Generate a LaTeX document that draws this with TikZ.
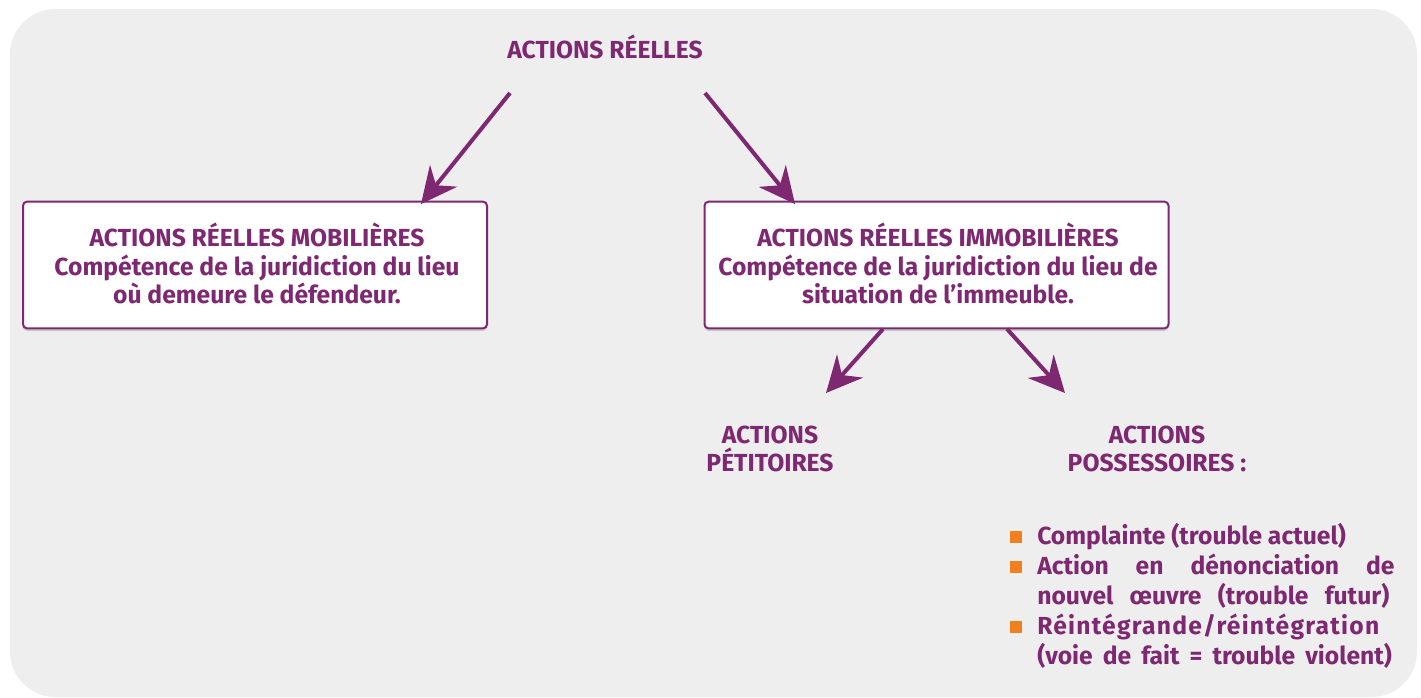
\documentclass[tikz,border=0pt]{standalone}
\usepackage{fontspec}
\setmainfont{Fira Sans}
\usetikzlibrary{arrows.meta,shadows}
\definecolor{pur}{HTML}{7D2870}
\definecolor{bg}{HTML}{EEEEEE}
\definecolor{org}{HTML}{F07F1E}
\begin{document}
\begin{tikzpicture}[x=0.75pt,y=-0.75pt,
  txt/.style={inner sep=0pt,font=\fontsize{18.5}{21}\selectfont\bfseries,text=pur},
  ctr/.style={txt,anchor=base},
  lft/.style={txt,anchor=base west},
  box/.style={draw=pur,line width=1.5pt,fill=white,rounded corners=3pt,
    minimum width=348pt,minimum height=95pt,inner sep=0pt,
    drop shadow={shadow xshift=0pt,shadow yshift=-2pt,opacity=0.35,fill=black!45}},
  arr/.style={draw=pur,line width=3pt,-{Stealth[length=27pt,width=26pt,inset=9pt]}},
  bul/.style={fill=org,inner sep=0pt,minimum size=9.5pt}]
\useasboundingbox (0,0) rectangle (1421,697);
\fill[bg,rounded corners=34pt] (10,9) rectangle (1417,697);
% title
\node[ctr] (title) at (605,58) {ACTIONS RÉELLES};
% boxes
\node[box] (boxL) at (255,265) {};
\node[box] (boxR) at (936.5,265) {};
\node[ctr] (l1a) at (257,246) {ACTIONS RÉELLES MOBILIÈRES};
\node[ctr] (l1b) at (257,275) {Compétence de la juridiction du lieu};
\node[ctr] (l1c) at (257,303) {où demeure le défendeur.};
\node[ctr] (r1a) at (938,246) {ACTIONS RÉELLES IMMOBILIÈRES};
\node[ctr] (r1b) at (938,275) {Compétence de la juridiction du lieu de};
\node[ctr] (r1c) at (938,303) {situation de l’immeuble.};
% arrows from title
\coordinate (a1s) at (510,93);
\coordinate (a1e) at (421,204);
\coordinate (a2s) at (705,93);
\coordinate (a2e) at (795,204);
\draw[arr] (a1s) -- (a1e);
\draw[arr] (a2s) -- (a2e);
% arrows from right box
\coordinate (a3s) at (883,329);
\coordinate (a3e) at (826,393);
\coordinate (a4s) at (1007,329);
\coordinate (a4e) at (1065,393);
\draw[arr] (a3s) -- (a3e);
\draw[arr] (a4s) -- (a4e);
% sub headings
\node[ctr] (p1) at (770,443) {ACTIONS};
\node[ctr] (p2) at (770,471) {PÉTITOIRES};
\node[ctr] (q1) at (1157,443) {ACTIONS};
\node[ctr] (q2) at (1157,471) {POSSESSOIRES :};
% bullets
\node[bul] (b1) at (1016,537) {};
\node[bul] (b2) at (1016,567) {};
\node[bul] (b3) at (1016,627) {};
\node[lft] (t1) at (1037,544) {Complainte (trouble actuel)};
\node[lft] (t2) at (1037,574) {\hbox to 268pt{Action\hfil en\hfil dénonciation\hfil de}};
\node[lft] (t3) at (1037,604) {\hbox to 264pt{nouvel\hfil œuvre\hfil (trouble\hfil futur)}};
\node[lft] (t4) at (1037,634) {\addfontfeature{LetterSpace=5}Réintégrande/réintégration};
\node[lft] (t5) at (1037,664) {\hbox to 266pt{(voie\hfil de\hfil fait\hfil =\hfil trouble\hfil violent)}};
\end{tikzpicture}
\end{document}
